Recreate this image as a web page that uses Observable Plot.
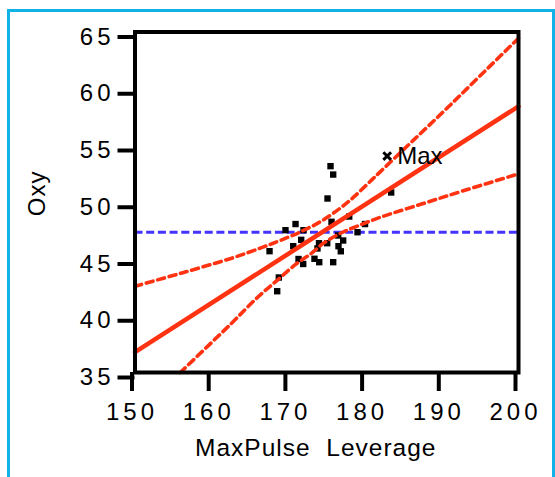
<!DOCTYPE html>
<html>
<head>
<meta charset="utf-8">
<script src="https://cdn.jsdelivr.net/npm/d3@7"></script>
<script src="https://cdn.jsdelivr.net/npm/@observablehq/plot@0.6"></script>
<style>
  html, body { margin: 0; padding: 0; background: #fff; }
  #wrap { position: relative; width: 555px; height: 477px; overflow: hidden; }
  #panel {
    position: absolute; left: 7px; top: 9px; width: 548px; height: 480px;
    box-sizing: border-box; border: 3px solid #10b2e8; border-bottom: none;
  }
  #chart { position: absolute; left: 0; top: 0; }
  #chart svg g[aria-label="x-axis tick label"] text,
  #chart svg g[aria-label="y-axis tick label"] text { letter-spacing: 4px; }
  #chart svg g.title text { letter-spacing: 1px; }
</style>
</head>
<body>
<div id="wrap"><div id="panel"></div><div id="chart"></div></div>
<script>
// Leverage plot of Oxy against MaxPulse
const xTicks = [150, 160, 170, 180, 190, 200];
const yTicks = [35, 40, 45, 50, 55, 60, 65];
const xTitle = "MaxPulse\u00a0\u00a0Leverage";
const yTitle = "Oxy";

// leverage residual points
const pulse = [175.49, 175.84, 175.10, 177.93, 179.99, 179.01, 170.93, 169.62, 171.97, 175.62,
               171.67, 173.99, 175.06, 176.49, 177.14, 170.63, 167.54, 173.79, 176.83, 176.53,
               171.32, 171.93, 173.40, 174.02, 175.84, 168.75, 168.54, 183.40];
const oxy   = [53.18, 52.44, 50.33, 48.74, 48.08, 47.36, 48.08, 47.54, 47.54, 48.28,
               46.69, 46.39, 46.39, 47.07, 46.63, 46.13, 45.69, 45.93, 45.68, 46.13,
               45.00, 44.56, 45.02, 44.72, 44.72, 43.37, 42.16, 50.86];

// highlighted point
const markPulse = [182.88];
const markOxy = [54.07];
const markLabel = ["Max"];

// fitted line
const fitX = [150, 200];
const fitY = [36.8, 58.45];

// confidence curves
const upperX = [150, 156, 162.5, 166.5, 169, 171.6, 174.2, 176.8, 178.5, 180.3, 182, 186.35, 190.7, 195, 200];
const upperY = [42.6, 43.75, 45.05, 46.0, 46.65, 47.4, 48.3, 49.5, 50.45, 51.6, 52.7, 55.5, 58.3, 61.15, 64.45];
const lowerX = [155.9, 162.45, 166.1, 168.5, 170.9, 172.9, 174.6, 176.8, 179.0, 182.0, 187.45, 192.9, 200];
const lowerY = [35.0, 39.25, 41.7, 43.1, 44.5, 45.45, 46.4, 47.27, 47.9, 48.68, 49.86, 51.03, 52.5];

// mean of response
const meanOxy = 47.35;

const red = "#ff3311";
const blue = "#4433ff";

const pts = pulse.map((x, i) => ({x, y: oxy[i]}));
const marked = markPulse.map((x, i) => ({x, y: markOxy[i], label: markLabel[i]}));
const fit = fitX.map((x, i) => ({x, y: fitY[i]}));
const upper = upperX.map((x, i) => ({x, y: upperY[i]}));
const lower = lowerX.map((x, i) => ({x, y: lowerY[i]}));

const chart = Plot.plot({
  width: 555,
  height: 477,
  marginLeft: 134.5,
  marginRight: 37,
  marginTop: 31.5,
  marginBottom: 105,
  style: {fontFamily: "'Liberation Sans', Arial, sans-serif", fontSize: "24px", color: "black", background: "transparent"},
  x: {domain: [150, 200]},
  y: {domain: [35, 65]},
  marks: [
    Plot.ruleY([meanOxy], {stroke: blue, strokeWidth: 3, strokeDasharray: "8,3.7"}),
    Plot.dot(pts, {x: "x", y: "y", symbol: "square", r: 3.6, fill: "black", stroke: null}),
    Plot.line(upper, {x: "x", y: "y", curve: "catmull-rom", stroke: red, strokeWidth: 3.6, strokeDasharray: "7,4.8"}),
    Plot.line(lower, {x: "x", y: "y", curve: "catmull-rom", stroke: red, strokeWidth: 3.6, strokeDasharray: "7,4.8"}),
    Plot.line(fit, {x: "x", y: "y", stroke: red, strokeWidth: 4.5}),
    Plot.dot(marked, {x: "x", y: "y", symbol: "times", r: 3.6, stroke: "black", strokeWidth: 3}),
    Plot.text(marked, {x: "x", y: "y", text: "label", textAnchor: "start", dx: 10, fontSize: 24, fill: "black"}),
    Plot.frame({stroke: "black", strokeWidth: 4}),
    Plot.axisX(xTicks, {tickSize: 19, tickPadding: 11, strokeWidth: 4, label: null, fontSize: 24, dx: -3}),
    Plot.axisY(yTicks, {tickSize: 17, tickPadding: 3.5, strokeWidth: 4, label: null, fontSize: 24, dy: 5}),
    Plot.text([xTitle], {frameAnchor: "bottom", text: d => d, dy: 76, dx: -11, lineAnchor: "middle", fontSize: 24.5, className: "title"}),
    Plot.text([yTitle], {frameAnchor: "left", text: d => d, rotate: -90, dx: -97.5, dy: 14, lineAnchor: "middle", fontSize: 24, className: "title"})
  ]
});
document.getElementById("chart").appendChild(chart);
</script>
</body>
</html>
